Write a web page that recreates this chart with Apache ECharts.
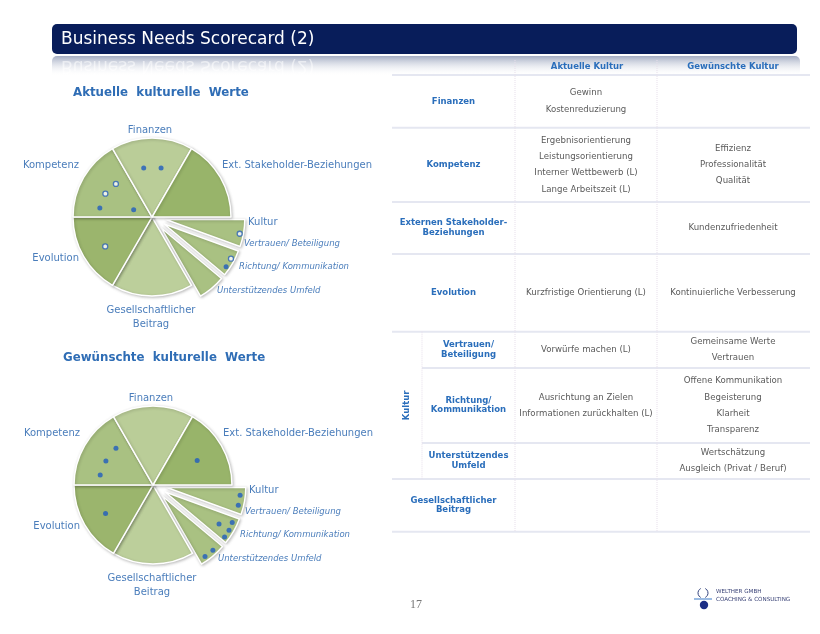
<!DOCTYPE html>
<html><head><meta charset="utf-8">
<script src="https://cdn.jsdelivr.net/npm/echarts@6/dist/echarts.min.js"></script>
<style>html,body{margin:0;padding:0;background:#fff}#c{width:820px;height:634px}</style>
</head><body><div id="c"></div>
<script>
// ---------------- data ----------------
const slideTitle = 'Business Needs Scorecard (2)';
const pieTitles = ['Aktuelle  kulturelle  Werte', 'Gewünschte  kulturelle  Werte'];
const pieCategories = ['Vertrauen/ Beteiligung', 'Richtung/ Kommunikation', 'Unterstützendes Umfeld',
  'Gesellschaftlicher\nBeitrag', 'Evolution', 'Kompetenz', 'Finanzen', 'Ext. Stakeholder-Beziehungen'];
const pieValues = [1, 1, 1, 3, 3, 3, 3, 3];
const kulturSubSlice = [true, true, true, false, false, false, false, false];
const groupLabel = 'Kultur';
// dots: [radius (share of pie radius), angle (deg, counter-clockwise from 3 o'clock)]
const currentPositive = [[0.63, 99.6], [0.63, 79.5], [0.67, 170.2], [0.25, 158.2], [1.13, 326.1]];
const currentNegative = [[0.62, 137.5], [0.66, 153.4], [0.70, 212.2], [1.13, 349.2], [1.13, 332.2]];
const desiredPositive = [[0.66, 135.3], [0.67, 152.9], [0.68, 169.4], [0.64, 29.1], [0.70, 210.9],
  [1.11, 353.3], [1.11, 346.6], [0.97, 329.5], [1.11, 334.6], [1.12, 329.2], [1.12, 324],
  [1.12, 312.6], [1.12, 306]];
const desiredNegative = [];
const tableHeaders = ['Aktuelle Kultur', 'Gewünschte Kultur'];
const tableRowLabels = ['Finanzen', 'Kompetenz', 'Externen Stakeholder-\nBeziehungen', 'Evolution',
  'Vertrauen/\nBeteiligung', 'Richtung/\nKommunikation', 'Unterstützendes\nUmfeld', 'Gesellschaftlicher\nBeitrag'];
const tableCurrent = [
  ['Gewinn', 'Kostenreduzierung'],
  ['Ergebnisorientierung', 'Leistungsorientierung', 'Interner Wettbewerb (L)', 'Lange Arbeitszeit (L)'],
  [],
  ['Kurzfristige Orientierung (L)'],
  ['Vorwürfe machen (L)'],
  ['Ausrichtung an Zielen', 'Informationen zurückhalten (L)'],
  [],
  []
];
const tableDesired = [
  [],
  ['Effizienz', 'Professionalität', 'Qualität'],
  ['Kundenzufriedenheit'],
  ['Kontinuierliche Verbesserung'],
  ['Gemeinsame Werte', 'Vertrauen'],
  ['Offene Kommunikation', 'Begeisterung', 'Klarheit', 'Transparenz'],
  ['Wertschätzung', 'Ausgleich (Privat / Beruf)'],
  []
];
const kulturRows = [4, 5, 6];
const pageNumber = '17';
const companyLines = ['WELTHER GMBH', 'COACHING & CONSULTING'];

// ---------------- layout & style ----------------
const FONT = '"DejaVu Sans", Verdana, sans-serif';
const R = 79;
const pieCenters = [[152, 217], [153, 485]];
const sliceColors = ['#a9c182', '#a9c182', '#a9c182', '#bccf9b', '#9bb56d', '#a9c182', '#bacd98', '#98b46a'];
const labelBlue = '#4a7dbb';
const tableBlue = '#2a6ebb';
const labelPlace = [
  {dx: 92, dy: 27, align: 'left', italic: true},
  {dx: 87, dy: 50, align: 'left', italic: true},
  {dx: 65, dy: 74, align: 'left', italic: true},
  {dx: -1, dy: 100, align: 'center'},
  {dx: -73, dy: 41, align: 'right'},
  {dx: -73, dy: -52, align: 'right'},
  {dx: -2, dy: -87, align: 'center'},
  {dx: 70, dy: -52, align: 'left'}
];
const groupPlace = {dx: 96, dy: 5.5};

const graphics = [];
// title bar
graphics.push({type: 'rect', shape: {x: 52, y: 24, width: 745, height: 30, r: 5}, style: {fill: '#081d5a'}});
graphics.push({type: 'text', style: {text: slideTitle, x: 61, y: 40, fill: '#ffffff', font: '17px ' + FONT, verticalAlign: 'middle'}});
// reflection band
graphics.push({type: 'rect', shape: {x: 52, y: 56, width: 748, height: 20, r: [5, 5, 0, 0]},
  style: {fill: {type: 'linear', x: 0, y: 0, x2: 0, y2: 1, colorStops: [
    {offset: 0, color: '#a3acc3'}, {offset: 1, color: 'rgba(255,255,255,0)'}]}}});
graphics.push({type: 'text', x: 61, y: 65, scaleY: -1,
  style: {text: slideTitle, x: 0, y: 0, fill: 'rgba(255,255,255,0.55)', font: '17px ' + FONT, verticalAlign: 'middle'}});

// pie titles and labels
const titlePos = [[73, 93], [63, 358]];
pieTitles.forEach((t, p) => {
  graphics.push({type: 'text', style: {text: t, x: titlePos[p][0], y: titlePos[p][1], fill: '#2f6db5',
    font: 'bold 11.8px ' + FONT, verticalAlign: 'middle'}});
  const [cx, cy] = pieCenters[p];
  pieCategories.forEach((name, i) => {
    const lp = labelPlace[i];
    graphics.push({type: 'text', style: {text: name, x: cx + lp.dx, y: cy + lp.dy, fill: labelBlue,
      font: (lp.italic ? 'italic 8.5px ' : '10px ') + FONT, align: lp.align, verticalAlign: 'middle', lineHeight: 14}});
  });
  graphics.push({type: 'text', style: {text: groupLabel, x: cx + groupPlace.dx, y: cy + groupPlace.dy, fill: labelBlue,
    font: '10px ' + FONT, align: 'left', verticalAlign: 'middle'}});
});

// table
const rowEdges = [75, 127.7, 202, 254, 331.7, 368, 443, 479, 531.7];
const colX = [392, 422, 515, 657, 810];
const lineH = 16.3;
const bodyFont = '8.6px ' + FONT;
const headFont = 'bold 8.5px ' + FONT;
graphics.push({type: 'text', style: {text: tableHeaders[0], x: 587, y: 67, fill: tableBlue, font: headFont, align: 'center', verticalAlign: 'middle'}});
graphics.push({type: 'text', style: {text: tableHeaders[1], x: 733, y: 67, fill: tableBlue, font: headFont, align: 'center', verticalAlign: 'middle'}});
rowEdges.forEach((y, k) => {
  const inner = k === 5 || k === 6;
  graphics.push({type: 'line', shape: {x1: inner ? colX[1] : colX[0], y1: y, x2: colX[4], y2: y},
    style: {stroke: '#e5e7f1', lineWidth: 2}});
});
[colX[2], colX[3]].forEach(x => graphics.push({type: 'line', shape: {x1: x, y1: 60, x2: x, y2: 532},
  style: {stroke: '#e6dfeb', lineWidth: 1, lineDash: [1, 1]}}));
graphics.push({type: 'line', shape: {x1: colX[1], y1: rowEdges[4], x2: colX[1], y2: rowEdges[7]},
  style: {stroke: '#e6dfeb', lineWidth: 1, lineDash: [1, 1]}});
graphics.push({type: 'text', x: 407, y: (rowEdges[4] + rowEdges[7]) / 2, rotation: Math.PI / 2,
  style: {text: groupLabel, x: 0, y: 0, fill: tableBlue, font: headFont, align: 'center', verticalAlign: 'middle'}});
tableRowLabels.forEach((lab, i) => {
  const cy = (rowEdges[i] + rowEdges[i + 1]) / 2;
  const sub = kulturRows.includes(i);
  const lx = sub ? (colX[1] + colX[2]) / 2 : (colX[0] + colX[2]) / 2;
  graphics.push({type: 'text', style: {text: lab, x: lx, y: cy, fill: tableBlue, font: headFont,
    align: 'center', verticalAlign: 'middle', lineHeight: 9.5}});
  [[tableCurrent[i], (colX[2] + colX[3]) / 2], [tableDesired[i], (colX[3] + colX[4]) / 2 - 0.5]].forEach(([lines, x]) => {
    lines.forEach((t, k) => {
      graphics.push({type: 'text', style: {text: t, x: x, y: cy + (k - (lines.length - 1) / 2) * lineH,
        fill: '#5a5a5a', font: bodyFont, align: 'center', verticalAlign: 'middle'}});
    });
  });
});

// page number
graphics.push({type: 'text', style: {text: pageNumber, x: 416, y: 605, fill: '#777', font: '12px "Liberation Serif", serif', align: 'center', verticalAlign: 'middle'}});
// logo
graphics.push({type: 'arc', shape: {cx: 703, cy: 593, r: 5, startAngle: Math.PI * 0.65, endAngle: Math.PI * 1.35}, style: {stroke: '#33437e', fill: null, lineWidth: 1}});
graphics.push({type: 'arc', shape: {cx: 703, cy: 593, r: 5, startAngle: -Math.PI * 0.35, endAngle: Math.PI * 0.35}, style: {stroke: '#33437e', fill: null, lineWidth: 1}});
graphics.push({type: 'line', shape: {x1: 694, y1: 599, x2: 712, y2: 599}, style: {stroke: '#5a8fd0', lineWidth: 1.2}});
graphics.push({type: 'circle', shape: {cx: 704, cy: 605, r: 4.2}, style: {fill: '#1d2f86'}});
companyLines.forEach((t, k) => graphics.push({type: 'text', style: {text: t, x: 716, y: 592 + k * 8, fill: '#3a4377',
  font: '5.6px ' + FONT, verticalAlign: 'middle'}}));

// ---------------- chart ----------------
const polarMax = 1.3;
function pieSeries(p) {
  return {
    type: 'pie', center: pieCenters[p], radius: [0, R], startAngle: 0, clockwise: true,
    selectedMode: 'multiple', selectedOffset: 14, animation: false, silent: true,
    label: {show: false}, labelLine: {show: false}, emphasis: {disabled: true},
    itemStyle: {borderColor: '#ffffff', borderWidth: 1.5, shadowBlur: 3, shadowColor: 'rgba(0,0,0,0.22)', shadowOffsetX: 1, shadowOffsetY: 1},
    z: 2,
    data: pieCategories.map((n, i) => ({name: n, value: pieValues[i], selected: kulturSubSlice[i], itemStyle: {color: sliceColors[i]}}))
  };
}
function dotSeries(p, data, filled) {
  return {
    type: 'scatter', coordinateSystem: 'polar', polarIndex: p, data: data, symbolSize: 5, z: 5, silent: true, animation: false,
    itemStyle: filled ? {color: '#1f5cbf'} : {color: '#ffffff', borderColor: '#2a62b8', borderWidth: 1.3}
  };
}
const chart = echarts.init(document.getElementById('c'));
chart.setOption({
  backgroundColor: '#ffffff',
  polar: pieCenters.map(c => ({center: c, radius: R * polarMax})),
  angleAxis: [0, 1].map(i => ({polarIndex: i, type: 'value', min: 0, max: 360, startAngle: 0, clockwise: false, show: false})),
  radiusAxis: [0, 1].map(i => ({polarIndex: i, type: 'value', min: 0, max: polarMax, show: false})),
  graphic: graphics,
  series: [
    pieSeries(0), pieSeries(1),
    dotSeries(0, currentPositive, true), dotSeries(0, currentNegative, false),
    dotSeries(1, desiredPositive, true), dotSeries(1, desiredNegative, false)
  ]
});
</script></body></html>
